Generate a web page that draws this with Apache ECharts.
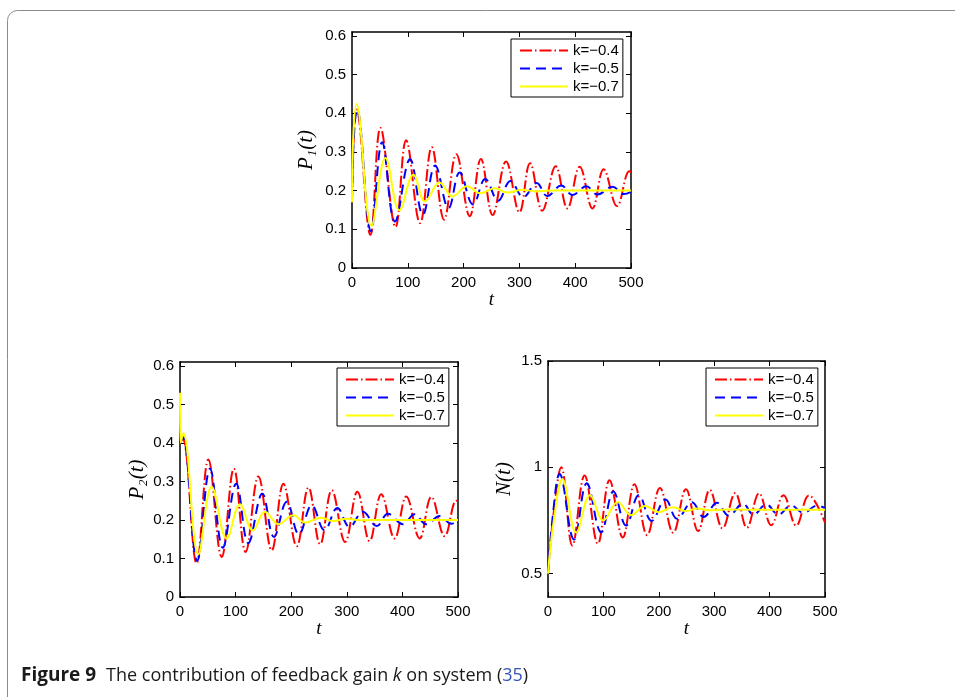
<!DOCTYPE html>
<html>
<head>
<meta charset="utf-8">
<script src="https://cdn.jsdelivr.net/npm/echarts@6/dist/echarts.min.js"></script>
<style>
  html, body { margin: 0; padding: 0; background: #fff; }
  #chart { width: 955px; height: 697px; }
</style>
</head>
<body>
<div id="chart"></div>
<script>
// Feedback gain study: P1(t), P2(t) and N(t) for three gains k.
const GAINS = ['k=−0.4', 'k=−0.5', 'k=−0.7'];
const T_TICKS = [0, 100, 200, 300, 400, 500];
const P_TICKS = [0, 0.1, 0.2, 0.3, 0.4, 0.5, 0.6];
const N_TICKS = [0.5, 1, 1.5];

// P1(t): turning points of each trajectory (time, value)
const p1T_04 = [0, 3, 8, 33, 51, 78, 97, 122, 143, 165, 187, 211, 231, 252, 276, 300, 319, 341, 365, 386, 408, 431, 451, 475, 497, 500];
const p1V_04 = [0.17, 0.33, 0.41, 0.086, 0.362, 0.106, 0.33, 0.116, 0.312, 0.125, 0.294, 0.134, 0.282, 0.137, 0.275, 0.144, 0.271, 0.148, 0.263, 0.154, 0.262, 0.154, 0.255, 0.16, 0.25, 0.249];
const p1T_05 = [0, 3, 9, 34, 54, 77, 104, 127, 149, 173, 193, 217, 239, 262, 284, 307, 331, 350, 375, 395, 420, 440, 467, 487, 500];
const p1V_05 = [0.17, 0.33, 0.41, 0.095, 0.325, 0.12, 0.281, 0.138, 0.265, 0.155, 0.247, 0.164, 0.23, 0.174, 0.225, 0.183, 0.22, 0.186, 0.213, 0.189, 0.211, 0.19, 0.21, 0.191, 0.197];
const p1T_07 = [0, 2, 8, 35, 60, 85, 110, 131, 157, 180, 206, 230, 256, 278, 305, 330, 355, 500];
const p1V_07 = [0.17, 0.33, 0.424, 0.109, 0.284, 0.149, 0.241, 0.172, 0.221, 0.185, 0.211, 0.193, 0.206, 0.195, 0.202, 0.198, 0.2, 0.2];

// P2(t)
const p2T_04 = [0, 5, 30, 51, 75, 97, 118, 141, 165, 186, 210, 231, 252, 273, 297, 319, 341, 362, 386, 407, 431, 452, 476, 497, 500];
const p2V_04 = [0.40, 0.41, 0.087, 0.357, 0.104, 0.333, 0.117, 0.313, 0.121, 0.294, 0.132, 0.284, 0.137, 0.277, 0.143, 0.273, 0.145, 0.267, 0.152, 0.261, 0.152, 0.26, 0.158, 0.25, 0.249];
const p2T_05 = [0, 5, 31, 54, 77, 101, 123, 148, 169, 192, 214, 237, 260, 283, 305, 329, 354, 374, 401, 422, 443, 467, 488, 500];
const p2V_05 = [0.40, 0.415, 0.094, 0.333, 0.128, 0.294, 0.14, 0.268, 0.156, 0.247, 0.163, 0.238, 0.173, 0.231, 0.182, 0.221, 0.184, 0.216, 0.189, 0.215, 0.189, 0.21, 0.19, 0.199];
const p2T_07 = [0, 1, 6, 33, 57, 84, 108, 131, 153, 177, 204, 225, 254, 275, 299, 325, 350, 500];
const p2V_07 = [0.53, 0.40, 0.425, 0.111, 0.286, 0.152, 0.241, 0.173, 0.221, 0.189, 0.212, 0.193, 0.206, 0.197, 0.203, 0.199, 0.2, 0.2];

// N(t)
const nT_04 = [0, 10, 24, 44, 66, 90, 111, 135, 156, 179, 202, 226, 249, 271, 292, 315, 338, 359, 381, 403, 425, 448, 471, 500];
const nV_04 = [0.5, 0.78, 1.0, 0.632, 0.962, 0.641, 0.939, 0.67, 0.92, 0.681, 0.903, 0.692, 0.897, 0.7, 0.894, 0.713, 0.879, 0.716, 0.878, 0.727, 0.869, 0.726, 0.868, 0.74];
const nT_05 = [0, 9, 21, 47, 70, 96, 118, 141, 164, 187, 212, 233, 260, 281, 305, 326, 352, 371, 394, 416, 439, 461, 486, 500];
const nV_05 = [0.5, 0.78, 0.968, 0.66, 0.925, 0.694, 0.886, 0.726, 0.87, 0.748, 0.848, 0.758, 0.836, 0.766, 0.833, 0.773, 0.828, 0.778, 0.825, 0.778, 0.82, 0.786, 0.82, 0.808];
const nT_07 = [0, 11, 26, 51, 76, 100, 126, 150, 175, 200, 226, 248, 270, 293, 320, 500];
const nV_07 = [0.5, 0.76, 0.944, 0.694, 0.869, 0.75, 0.837, 0.775, 0.818, 0.789, 0.812, 0.794, 0.806, 0.798, 0.801, 0.8];

const zip = (t, v) => t.map((x, i) => [x, v[i]]);

const TICK_FONT = { color: '#000', fontFamily: 'Liberation Sans, Arial, sans-serif', fontSize: 15 };
const MATH_FONT = { color: '#000', fontFamily: 'Liberation Serif, DejaVu Serif, serif', fontStyle: 'italic', fontSize: 19 };
const YNAME_FONT = Object.assign({}, MATH_FONT, { fontSize: 21 });
const FRAME = { show: true, onZero: false, lineStyle: { color: '#000', width: 1.5 } };

const panels = [
  { grid: { left: 352, top: 32, width: 279, height: 236 }, yMin: 0, yMax: 0.61, yTicks: P_TICKS, yName: 'P₁(t)', yGap: 35,
    legend: { left: 511, top: 39 }, curves: [zip(p1T_04, p1V_04), zip(p1T_05, p1V_05), zip(p1T_07, p1V_07)] },
  { grid: { left: 180, top: 362, width: 278, height: 235 }, yMin: 0, yMax: 0.61, yTicks: P_TICKS, yName: 'P₂(t)', yGap: 32,
    legend: { left: 337, top: 368 }, curves: [zip(p2T_04, p2V_04), zip(p2T_05, p2V_05), zip(p2T_07, p2V_07)] },
  { grid: { left: 548, top: 361, width: 277, height: 236 }, yMin: 0.39, yMax: 1.5, yTicks: N_TICKS, yName: 'N(t)', yGap: 33,
    legend: { left: 706, top: 368 }, curves: [zip(nT_04, nV_04), zip(nT_05, nV_05), zip(nT_07, nV_07)] }
];

const lineStyles = [
  { color: '#ff0000', width: 2, type: [12, 3, 1.5, 3] },
  { color: '#0000ff', width: 2, type: [10, 6] },
  { color: '#ffff00', width: 2, type: 'solid' }
];

const grid = [], xAxis = [], yAxis = [], series = [], legend = [];
panels.forEach((p, gi) => {
  grid.push(p.grid);
  xAxis.push({
    gridIndex: gi, type: 'value', min: 0, max: 500, interval: 100, position: 'bottom',
    axisLine: FRAME, axisTick: { inside: true, length: 5, lineStyle: { color: '#000' } },
    axisLabel: Object.assign({ margin: 7, customValues: T_TICKS }, TICK_FONT),
    splitLine: { show: false },
    name: 't', nameLocation: 'middle', nameGap: 22, nameTextStyle: MATH_FONT
  });
  xAxis.push({
    gridIndex: gi, type: 'value', min: 0, max: 500, interval: 100, position: 'top',
    axisLine: FRAME, axisTick: { inside: true, length: 5, lineStyle: { color: '#000' } },
    axisLabel: { show: false }, splitLine: { show: false }
  });
  yAxis.push({
    gridIndex: gi, type: 'value', min: p.yMin, max: p.yMax, position: 'left',
    axisLine: FRAME,
    axisTick: { inside: true, length: 5, customValues: p.yTicks, lineStyle: { color: '#000' } },
    axisLabel: Object.assign({ margin: 6, customValues: p.yTicks }, TICK_FONT),
    splitLine: { show: false },
    name: p.yName, nameLocation: 'middle', nameGap: p.yGap, nameTextStyle: YNAME_FONT
  });
  yAxis.push({
    gridIndex: gi, type: 'value', min: p.yMin, max: p.yMax, position: 'right',
    axisLine: FRAME,
    axisTick: { inside: true, length: 5, customValues: p.yTicks, lineStyle: { color: '#000' } },
    axisLabel: { show: false }, splitLine: { show: false }
  });
  p.curves.forEach((data, si) => {
    series.push({
      type: 'line', name: GAINS[si], xAxisIndex: gi * 2, yAxisIndex: gi * 2,
      data: data, symbol: 'none', showSymbol: false, smooth: 0.4,
      lineStyle: lineStyles[si], itemStyle: { color: lineStyles[si].color },
      z: 2 + si, silent: true, animation: false
    });
  });
  legend.push({
    data: GAINS, orient: 'vertical', left: p.legend.left, top: p.legend.top,
    icon: 'inherit', itemStyle: { opacity: 0 },
    backgroundColor: '#fff', borderColor: '#000', borderWidth: 1,
    padding: [4, 4, 3, 8], itemWidth: 48, itemHeight: 14, itemGap: 3,
    selectedMode: false, textStyle: TICK_FONT, z: 10
  });
});

const CAPTION_FONT = 'Open Sans, Noto Sans, sans-serif';
const chart = echarts.init(document.getElementById('chart'), null, { renderer: 'canvas' });
chart.setOption({
  animation: false,
  backgroundColor: '#fff',
  grid, xAxis, yAxis, series, legend,
  graphic: [
    {
      type: 'rect', left: 5, top: 8, silent: true,
      shape: { width: 1100, height: 900, r: 10 },
      style: { fill: 'none', stroke: '#8c8c8c', lineWidth: 1 }
    },
    {
      type: 'text', left: 21, top: 666, silent: true,
      style: {
        text: '{b|Figure 9}   {n|The contribution of feedback gain }{i|k}{n| on system (}{c|35}{n|)}',
        rich: {
          b: { fontFamily: CAPTION_FONT, fontWeight: 'bold', fontSize: 19, fill: '#1a1a1a' },
          n: { fontFamily: CAPTION_FONT, fontSize: 18, fill: '#1a1a1a' },
          i: { fontFamily: CAPTION_FONT, fontStyle: 'italic', fontSize: 18, fill: '#1a1a1a' },
          c: { fontFamily: CAPTION_FONT, fontSize: 18, fill: '#3355bb' }
        }
      }
    }
  ]
});
</script>
</body>
</html>
